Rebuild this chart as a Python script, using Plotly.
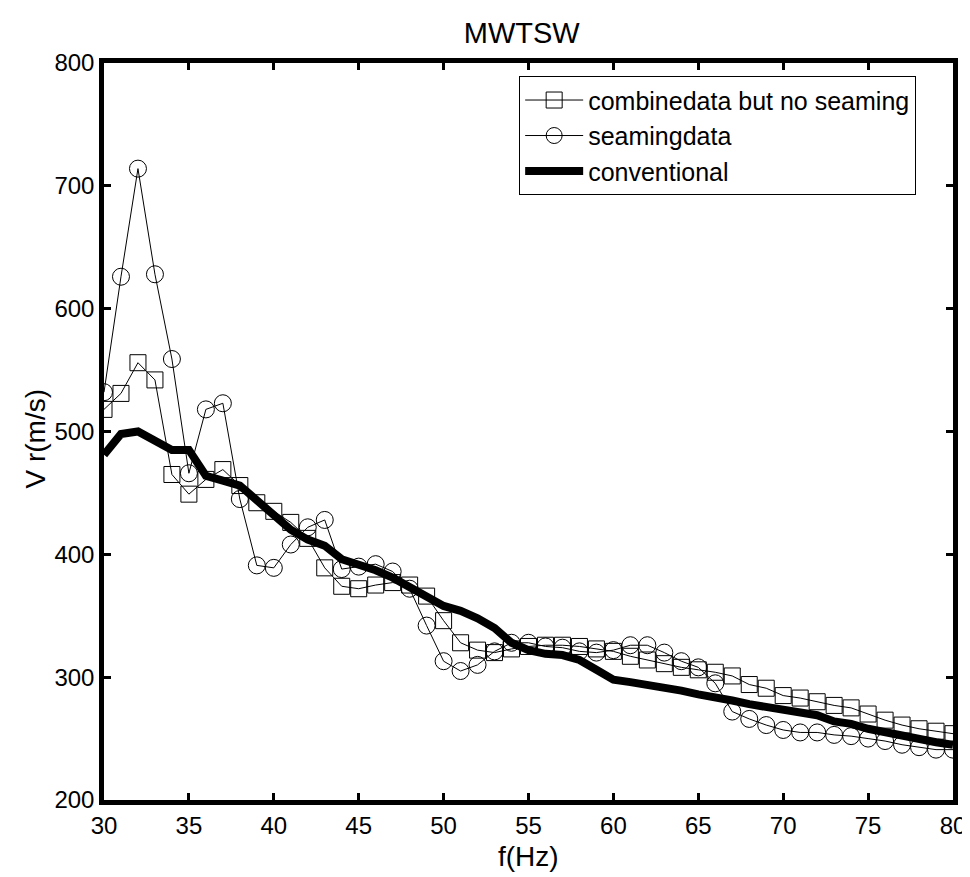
import plotly.graph_objects as go

freq = list(range(30, 81))

combined = [518, 531, 556, 542, 465, 449, 461, 469, 456, 442,
            435, 426, 413, 389, 374, 372, 375, 377, 375, 366,
            346, 328, 322, 320, 323, 325, 326, 326, 325, 323,
            321, 317, 314, 311, 308, 306, 304, 301, 294, 291,
            285, 283, 280, 277, 275, 270, 265, 261, 258, 256, 254]

seaming = [532, 626, 714, 628, 559, 466, 518, 523, 445, 391,
           389, 408, 422, 428, 388, 390, 392, 386, 372, 342,
           313, 305, 310, 321, 328, 328, 325, 324, 321, 320,
           322, 326, 326, 320, 313, 308, 295, 272, 266, 261,
           257, 255, 255, 253, 252, 250, 248, 245, 243, 241, 241]

conventional = [481, 498, 500, 492, 485, 485, 464, 460, 456, 444,
                431, 420, 412, 407, 396, 392, 387, 381, 373, 365,
                358, 354, 348, 340, 328, 322, 319, 318, 314, 306,
                298, 296, 294, 291, 289, 286, 284, 281, 278, 276,
                273, 271, 269, 264, 262, 258, 255, 252, 249, 247, 245]

x_ticks = [30, 35, 40, 45, 50, 55, 60, 65, 70, 75, 80]
y_ticks = [200, 300, 400, 500, 600, 700, 800]

FONT = "Liberation Sans, Arial, sans-serif"

fig = go.Figure()
fig.add_trace(go.Scatter(
    x=freq, y=combined, mode="lines+markers", name="combinedata but no seaming",
    line=dict(color="black", width=1),
    marker=dict(symbol="square-open", size=16, color="black", line=dict(width=1))))
fig.add_trace(go.Scatter(
    x=freq, y=seaming, mode="lines+markers", name="seamingdata",
    line=dict(color="black", width=1),
    marker=dict(symbol="circle-open", size=17, color="black", line=dict(width=1))))
fig.add_trace(go.Scatter(
    x=freq, y=conventional, mode="lines", name="conventional",
    line=dict(color="black", width=8)))

axis_common = dict(
    showline=True, linewidth=4.5, linecolor="black", mirror="ticks",
    ticks="inside", ticklen=7, tickwidth=2.5, tickcolor="black",
    showgrid=False, zeroline=False,
    tickfont=dict(family=FONT, size=24, color="black"),
)

fig.update_layout(
    width=970, height=877,
    margin=dict(l=96, r=17, t=55, b=85),
    paper_bgcolor="white", plot_bgcolor="white",
    font=dict(family=FONT, color="black"),
    title=dict(text="MWTSW", x=0.492, xref="paper", y=1 - 25 / 877, yanchor="middle",
               font=dict(family=FONT, size=29, color="black")),
    xaxis=dict(range=[30, 80], tickvals=x_ticks, **axis_common),
    yaxis=dict(range=[200, 800], tickvals=y_ticks, **axis_common),
    showlegend=True,
    legend=dict(x=0.489, y=0.982, xanchor="left", yanchor="top",
                bgcolor="white", bordercolor="black", borderwidth=1,
                font=dict(family=FONT, size=25, color="black"),
                tracegroupgap=0, itemwidth=58),
    annotations=[
        dict(text="f(Hz)", xref="paper", yref="paper", x=0.5, y=-0.077,
             showarrow=False, xanchor="center", yanchor="middle",
             font=dict(family=FONT, size=28, color="black")),
        dict(text="V r(m/s)", xref="paper", yref="paper", x=-0.0805, y=0.49,
             showarrow=False, xanchor="center", yanchor="middle", textangle=-90,
             font=dict(family=FONT, size=28, color="black")),
    ],
)

fig.write_html("out.html")
